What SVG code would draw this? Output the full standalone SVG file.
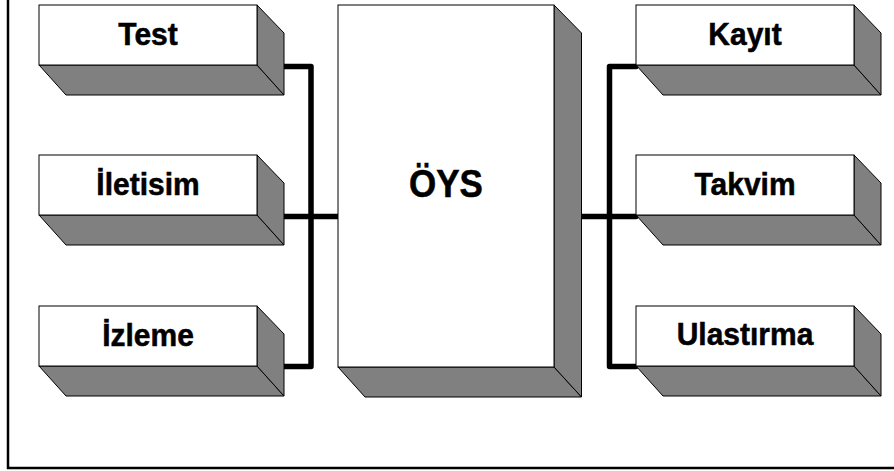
<svg xmlns="http://www.w3.org/2000/svg" width="894" height="471" viewBox="0 0 894 471">
  <style>
    .front { fill: #ffffff; stroke: #000000; stroke-width: 1; }
    .side { fill: #808080; stroke: #000000; stroke-width: 1; stroke-linejoin: miter; }
    .label { font-family: "Liberation Sans", Arial, sans-serif; font-weight: bold; font-size: 30px; fill: #000000; stroke: #000000; stroke-width: 0.5; text-anchor: middle; }
    .big { font-size: 35px; }
    .wire { fill: none; stroke: #000000; stroke-width: 5.5; stroke-linecap: round; stroke-linejoin: round; }
    .frame { fill: none; stroke: #000000; stroke-width: 2.5; }
  </style>
  <defs>
    <!-- 3D slab: white front face, grey bottom and right faces -->
    <g id="slab">
      <polygon class="side" points="0,60 218,60 245,90 27,90"/>
      <polygon class="side" points="218,0 245,28 245,90 218,60"/>
      <rect class="front" x="0" y="0" width="218" height="60"/>
    </g>
  </defs>

  <rect width="894" height="471" fill="#ffffff"/>
  <!-- page frame (left and bottom edges) -->
  <polyline class="frame" points="8,0 8,468 894,468"/>

  <!-- connectors -->
  <g id="connectors">
    <polyline class="wire" points="283,66.5 311,66.5 311,366.5 283,366.5"/>
    <line class="wire" x1="283" y1="216.5" x2="338" y2="216.5"/>
    <polyline class="wire" points="636,66.5 609.5,66.5 609.5,366.5 636,366.5"/>
    <line class="wire" x1="582" y1="216.5" x2="636" y2="216.5"/>
  </g>

  <g id="test">
    <use href="#slab" x="39" y="5"/>
    <text class="label" transform="translate(148,45) scale(1,1.07)">Test</text>
  </g>
  <g id="iletisim">
    <use href="#slab" x="39" y="155"/>
    <text class="label" transform="translate(148,195) scale(1,1.07)">İletisim</text>
  </g>
  <g id="izleme">
    <use href="#slab" x="39" y="306"/>
    <text class="label" transform="translate(148,345.5) scale(1,1.07)">İzleme</text>
  </g>

  <g id="oys">
    <polygon class="side" points="338,367 554,367 581.5,397 365,397"/>
    <polygon class="side" points="554,5 581.5,33 581.5,397 554,367"/>
    <rect class="front" x="338" y="5" width="216" height="362"/>
    <text class="label big" transform="translate(446,196.5) scale(1,1.1)">ÖYS</text>
  </g>

  <g id="kayit">
    <use href="#slab" x="636" y="5"/>
    <text class="label" transform="translate(745,45) scale(1,1.07)">Kayıt</text>
  </g>
  <g id="takvim">
    <use href="#slab" x="636" y="155"/>
    <text class="label" transform="translate(745,195) scale(1,1.07)">Takvim</text>
  </g>
  <g id="ulastirma">
    <use href="#slab" x="636" y="306"/>
    <text class="label" transform="translate(745,345) scale(1,1.07)">Ulastırma</text>
  </g>
</svg>
